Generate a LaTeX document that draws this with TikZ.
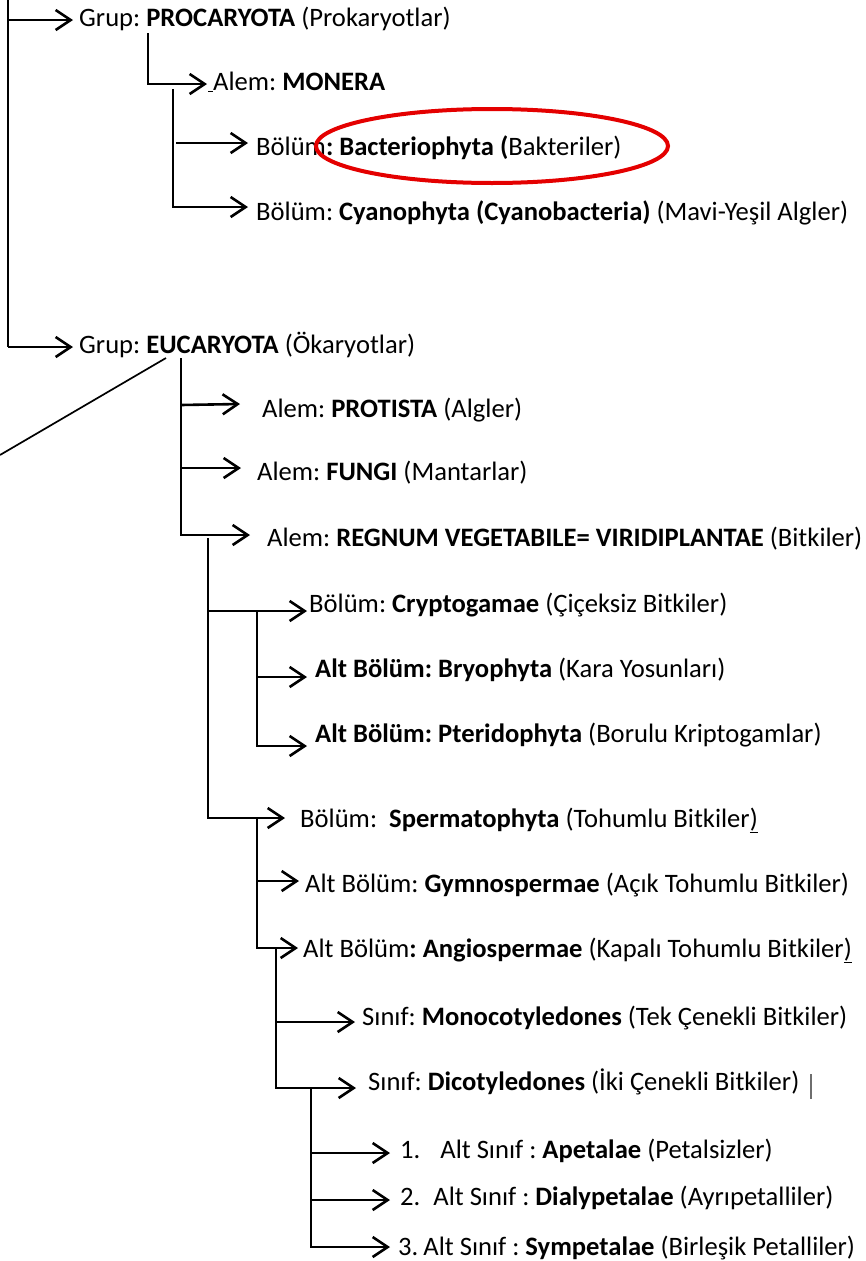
\documentclass[tikz,border=0pt]{standalone}
\usepackage{fontspec}
\setmainfont{Carlito}
\usetikzlibrary{arrows.meta}
\definecolor{ellred}{RGB}{228,0,0}
\definecolor{barg}{RGB}{110,110,110}
\frenchspacing
\tikzset{
  conn/.style={line width=2.6pt, line cap=butt, line join=miter},
  arr/.style={conn, -{Straight Barb[length=15pt,width=20pt,line width=2.6pt]}},
  lbl/.style={anchor=base west, inner sep=0pt, font=\fontsize{26.6}{31}\selectfont\frenchspacing, text=black}
}
\begin{document}
\begin{tikzpicture}[x=1pt,y=-1pt]
\useasboundingbox (0,0) rectangle (865,1261);

% ---------- text nodes ----------
\node[lbl] (pro)  at (79,26)   {Grup: \textbf{PROCARYOTA} (Prokaryotlar)};
\node[lbl] (mon)  at (208,90)  {\underline{\hspace{5pt}}Alem: \textbf{MONERA}};
\node[lbl] (bac)  at (256,155) {Bölüm\textbf{: Bacteriophyta (}Bakteriler)};
\node[lbl] (cya)  at (256,220) {Bölüm: \textbf{Cyanophyta (Cyanobacteria)} (Mavi-Yeşil Algler)};
\node[lbl] (euc)  at (79,353)  {Grup: \textbf{EUCARYOTA} (Ökaryotlar)};
\node[lbl] (prt)  at (262,417) {Alem: \textbf{PROTISTA} (Algler)};
\node[lbl] (fun)  at (257,480) {Alem: \textbf{FUNGI} (Mantarlar)};
\node[lbl] (reg)  at (267,546) {Alem: \textbf{REGNUM VEGETABILE= VIRIDIPLANTAE} (Bitkiler)};
\node[lbl] (cry)  at (309,612) {Bölüm: \textbf{Cryptogamae} (Çiçeksiz Bitkiler)};
\node[lbl] (bry)  at (315,677) {\textbf{Alt Bölüm: Bryophyta} (Kara Yosunları)};
\node[lbl] (pte)  at (315,742) {\textbf{Alt Bölüm: Pteridophyta} (Borulu Kriptogamlar)};
\node[lbl] (spe)  at (300,827) {Bölüm:\ \ \textbf{Spermatophyta} (Tohumlu Bitkiler\underline{)}};
\node[lbl] (gym)  at (305,892) {Alt Bölüm: \textbf{Gymnospermae} (Açık Tohumlu Bitkiler)};
\node[lbl] (ang)  at (303,957) {Alt Bölüm\textbf{: Angiospermae} (Kapalı Tohumlu Bitkiler\underline{)}};
\node[lbl] (mono) at (362,1025) {Sınıf: \textbf{Monocotyledones} (Tek Çenekli Bitkiler)};
\node[lbl] (dico) at (368,1090) {Sınıf: \textbf{Dicotyledones} (İki Çenekli Bitkiler)};
\node[lbl] (ape)  at (400,1158) {1.\hspace{20pt}Alt Sınıf : \textbf{Apetalae} (Petalsizler)};
\node[lbl] (dia)  at (400,1205) {2.\hspace{13pt}Alt Sınıf : \textbf{Dialypetalae} (Ayrıpetalliler)};
\node[lbl] (sym)  at (398,1255) {3.\hspace{5pt}Alt Sınıf : \textbf{Sympetalae} (Birleşik Petalliler)};

% ---------- arrow tips and branch points ----------
\coordinate (tpro) at (73,20);
\coordinate (teuc) at (73,347);
\coordinate (tmon) at (207,84);
\coordinate (tbac) at (248,143);
\coordinate (tcya) at (248,207);
\coordinate (tprt) at (240,404);
\coordinate (tfun) at (241,468);
\coordinate (treg) at (250,535);
\coordinate (tcry) at (307,611);
\coordinate (tbry) at (307,677);
\coordinate (tpte) at (307,746);
\coordinate (tspe) at (285,818);
\coordinate (tgym) at (299,881);
\coordinate (tang) at (298,948);
\coordinate (tmono) at (355,1022);
\coordinate (tdico) at (356,1088);
\coordinate (tape) at (390,1153);
\coordinate (tdia) at (390,1200);
\coordinate (tsym) at (390,1247);

% ---------- connectors ----------
\draw[conn] (8,0) -- (8,347);
\draw[arr] (8,20) -- (tpro);
\draw[arr] (8,347) -- (teuc);

\draw[arr] (148,33) -- (148,84) -- (tmon);
\draw[arr] (173,89) -- (173,207) -- (tcya);
\draw[arr] (176,143) -- (tbac);

\draw[line width=1.7pt] (166,358) -- (0,455);
\draw[arr] (181,358) -- (181,535) -- (treg);
\draw[arr] (181,405) -- (tprt);
\draw[arr] (181,468) -- (tfun);

\draw[arr] (208,538) -- (208,818) -- (tspe);
\draw[arr] (208,611) -- (tcry);
\draw[arr] (257,611) -- (257,746) -- (tpte);
\draw[arr] (257,677) -- (tbry);

\draw[arr] (257,818) -- (257,948) -- (tang);
\draw[arr] (257,881) -- (tgym);
\draw[arr] (276,948) -- (276,1088) -- (tdico);
\draw[arr] (276,1022) -- (tmono);
\draw[arr] (311,1088) -- (311,1247) -- (tsym);
\draw[arr] (311,1153) -- (tape);
\draw[arr] (311,1200) -- (tdia);

% cursor bar
\draw[barg, line width=2.2pt] (811,1074) -- (811,1099);

% red ellipse
\draw[ellred, line width=4pt] (492,146) ellipse [x radius=176, y radius=37];
\end{tikzpicture}
\end{document}
